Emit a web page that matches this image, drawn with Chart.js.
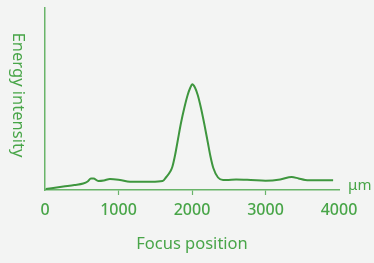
<!DOCTYPE html>
<html>
<head>
<meta charset="utf-8">
<script src="https://cdn.jsdelivr.net/npm/chart.js@4.4.0/dist/chart.umd.min.js"></script>
<style>
  html, body { margin: 0; padding: 0; background: #f3f4f3; }
  #wrap { width: 374px; height: 263px; }
</style>
</head>
<body>
<div id="wrap"><canvas id="chart" width="374" height="263"></canvas></div>
<script>
// focus position (um) and measured energy intensity (arbitrary units)
var positions = [10, 250, 400, 520, 580, 625, 660, 725, 800, 884, 1020, 1156, 1290, 1450, 1600, 1650, 1700, 1732, 1770, 1805, 1850, 1895, 1941, 1975, 2004, 2040, 2078, 2122, 2170, 2214, 2250, 2290, 2354, 2422, 2470, 2600, 2800, 3000, 3200, 3356, 3450, 3540, 3700, 3920]
var intensity = [1, 3.5, 5, 6.5, 8.5, 11.5, 11.5, 9, 9.5, 11, 10, 8.3, 8.3, 8.3, 9, 13, 18, 23, 35, 49, 67, 82, 95, 102, 105.7, 102.5, 95, 82, 65, 48, 34, 22, 12.5, 10, 10, 10.5, 10, 9.3, 10.5, 13, 11.5, 10, 9.7, 9.7]
var xTicks = [0, 1000, 2000, 3000, 4000]

var lineGreen = 'rgb(62, 150, 62)'
var textGreen = 'rgb(72, 165, 72)'
var axisGreen = 'rgb(105, 180, 105)'

var points = []
for (var i = 0; i < positions.length; i++) {
    points.push({ x: positions[i], y: intensity[i] })
}

// extra labels: rotated y title and the unit at the end of the x axis
var extraText = {
    id: 'extraText',
    afterDraw: function (chart) {
        var ctx = chart.ctx
        ctx.save()
        ctx.fillStyle = textGreen
        ctx.font = '16.5px "Noto Sans"'
        ctx.textAlign = 'center'
        ctx.textBaseline = 'middle'
        ctx.translate(18, 95)
        ctx.rotate(Math.PI / 2)
        ctx.fillText('Energy intensity', 0, 0)
        ctx.restore()

        ctx.save()
        ctx.fillStyle = textGreen
        ctx.font = '15px "Noto Sans"'
        ctx.textAlign = 'left'
        ctx.textBaseline = 'middle'
        ctx.fillText('μm', 348, 186)
        ctx.restore()
    }
}

var config = {
    type: 'line',
    data: {
        datasets: [{
            data: points,
            borderColor: lineGreen,
            borderWidth: 2,
            pointRadius: 0,
            cubicInterpolationMode: 'monotone',
            fill: false
        }]
    },
    options: {
        responsive: false,
        animation: false,
        layout: { padding: { top: 8, right: 35, left: 0, bottom: 0 } },
        plugins: {
            legend: { display: false },
            tooltip: { enabled: false }
        },
        scales: {
            x: {
                type: 'linear',
                min: 0,
                max: 4000,
                afterBuildTicks: function (scale) {
                    scale.ticks = xTicks.map(function (v) { return { value: v } })
                },
                afterFit: function (scale) { scale.height = 73 },
                ticks: {
                    color: textGreen,
                    font: { family: 'Noto Sans', size: 16, weight: '500' },
                    padding: 6,
                    maxRotation: 0,
                    autoSkip: false,
                    callback: function (v) { return String(v) }
                },
                grid: {
                    drawOnChartArea: false,
                    drawTicks: true,
                    tickLength: 5,
                    tickColor: function (c) {
                        var v = c.tick ? c.tick.value : 0
                        return (v === 0 || v === 4000) ? 'rgba(0,0,0,0)' : axisGreen
                    },
                    tickWidth: 1.2
                },
                border: { display: true, color: axisGreen, width: 1.5 },
                title: {
                    display: true,
                    text: 'Focus position',
                    color: textGreen,
                    font: { family: 'Noto Sans', size: 16.5 },
                    padding: { top: 4, bottom: 9 }
                }
            },
            y: {
                min: 0,
                max: 182,
                afterFit: function (scale) { scale.width = 45 },
                ticks: { display: false },
                grid: { display: false },
                border: { display: true, color: axisGreen, width: 1.5 }
            }
        }
    },
    plugins: [extraText]
}

var ctx = document.getElementById('chart').getContext('2d')
var myChart = new Chart(ctx, config)
</script>
</body>
</html>
